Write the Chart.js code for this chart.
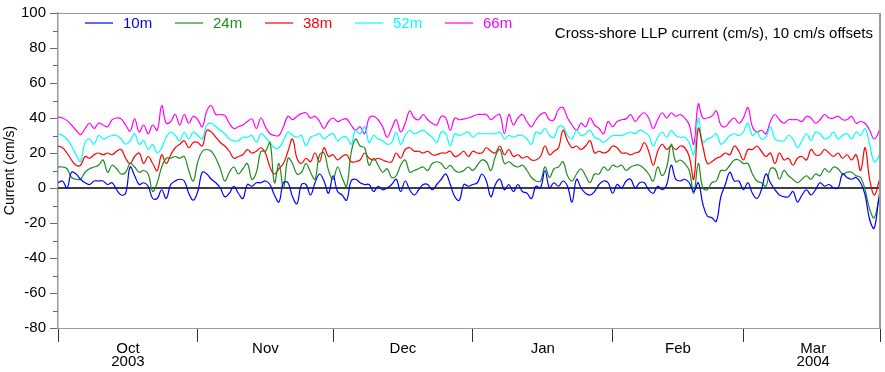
<!DOCTYPE html>
<html><head><meta charset="utf-8">
<script src="https://cdn.jsdelivr.net/npm/chart.js@4.4.0/dist/chart.umd.min.js"></script>
<style>html,body{margin:0;padding:0;background:#fff}#wrap{width:885px;height:372px}</style>
</head><body><div id="wrap"><canvas id="c" width="885" height="372"></canvas></div>
<script>
// Days since 2003-10-01
const monthNames = ['Oct','Nov','Dec','Jan','Feb','Mar'];
const monthYears = ['2003','','','','','2004'];
const monthStarts = [0,31,61,92,123,152];
const monthMids = [15.5,46,76.5,107.5,137.5,167.5];
const xEnd = 182.3;
const yTickValues = [-80,-60,-40,-20,0,20,40,60,80,100];
const seriesNames = ['10m','24m','38m','52m','66m'];
const seriesColors = ['#0000ff','#1e8c1e','#ff0000','#00ffff','#ff00ff'];
const titleText = 'Cross-shore LLP current (cm/s), 10 cm/s offsets';
const yTitle = 'Current (cm/s)';

const s10m = [3,4,0,9,8,5,3,2,4,4, 4,2,3,-1,-4,-3,12,7,2,3, 1,-6,-6,-1,-6,2,4,5,4,-3, -7,-2,9,8,5,3,0,-5,
 -3,1,-3,-6,2,1,3,3,4,2, -4,-8,3,3,-5,-9,2,2,-4,3, 8,4,-3,7,-2,-4,-7,4,5,3, 2,2,-2,1,-1,0,2,
 5,-2,4,-1,-4,-1,2,2,-1,2, 5,8,2,-5,-7,2,1,2,3,8, 4,-5,2,5,-1,2,-2,2,-2,-3, -6,1,0,10,0,3,1,
 4,1,-8,5,0,-3,-4,-2,2,4, 3,-3,2,0,4,5,0,3,3,-1, -3,1,-1,2,13,5,4,5,3,-2, 3,-9,-16,-17,-19,
 -5,2,9,4,4,-1,3,-3,-6,-1, 8,3,-1,-4,-5,-5,-2,-8,-4,-1, -4,-1,3,1,2,0,0,8,6,5, 6,3,-4,-18,-23,-7,5];
const s24m = [12,12,11,6,5,5,9,11,12,13, 16,9,13,11,8,9,14,12,9,10, 8,-2,3,12,17,17,18,17,18,10, 4,15,21,22,21,17,11,4,
 9,12,8,11,14,5,9,21,21,26, 3,14,0,17,14,8,9,14,9,5, 19,20,10,5,12,6,1,20,28,24, 23,13,17,13,9,11,6,
 7,13,16,9,10,11,12,10,14,15, 14,11,13,10,9,10,12,10,13,16, 15,10,18,22,14,15,13,12,13,10, 6,4,4,12,6,11,12,
 15,7,4,8,11,7,3,8,8,12, 10,13,12,13,10,12,13,13,11,8, 4,12,7,12,25,15,16,14,10,-3, 14,0,-1,3,4,
 10,10,13,16,16,14,14,8,4,3, 1,11,11,5,10,7,5,3,5,7, 5,8,7,11,9,12,11,8,9,9, 7,6,-1,-12,-17,-6,15];
const s38m = [24,23,20,16,13,13,18,17,19,20, 19,20,19,21,22,17,14,18,20,14, 18,14,10,19,14,19,23,25,27,23, 26,26,24,33,32,29,26,24,
 21,17,18,19,22,20,21,23,20,12, 8,11,14,21,28,17,14,17,15,20, 15,23,18,19,16,18,19,15,15,16, 20,17,16,17,16,15,15,
 20,17,22,23,21,21,20,21,19,19, 20,20,21,18,19,21,18,21,20,20, 23,21,20,24,19,22,18,19,17,18, 16,16,18,24,19,21,23,
 33,27,23,24,22,24,27,20,21,20, 21,24,23,20,20,19,20,21,26,21, 13,21,25,22,24,22,24,23,18,5, 34,24,14,15,17,
 18,20,19,24,21,16,22,22,24,21, 18,20,14,20,16,17,13,17,18,16, 22,19,19,22,20,18,20,17,19,16, 19,10,23,5,-4,3,15];
const s52m = [31,30,28,24,19,15,26,28,25,30, 28,29,30,30,28,25,27,31,25,27, 22,25,20,23,29,32,30,27,32,28, 32,30,28,36,37,35,33,31,
 28,27,27,29,29,30,26,31,29,26, 23,23,27,32,30,29,30,24,29,30, 31,28,30,31,27,29,29,25,33,31, 35,26,30,28,27,25,26,
 32,25,30,33,31,32,33,31,29,26, 32,31,24,31,30,31,32,29,31,31, 31,31,31,32,28,30,29,30,30,28, 25,32,31,34,30,29,35,
 35,30,28,33,30,31,33,29,28,26, 28,30,30,30,31,32,31,33,32,30, 24,29,32,29,33,30,29,29,26,19, 40,26,28,29,31,
 25,27,30,31,30,32,37,30,32,28, 29,35,28,27,27,30,28,23,27,31, 27,32,31,28,29,32,28,30,31,28, 32,30,34,25,15,18,30];
const s66m = [40.5,40,38.5,36,33,30.5,34,37,34,37, 36,35,39,40,39.5,36,32.5,39.5,32,36, 31,36,33,47,37,38,42,36,42,37, 41,39,35,44,47,42,42,41.5,
 37,34,35,36,38,39.5,34,40,35,31, 30,30,35,41,39,41,42.5,43,40,41, 38,34,38,40,38,39,39.5,36,33,35, 31,40,41,39,35,29,34,
 39,32,37,44,40,39,42,39,37,36, 41,40,33,40,39,39.5,40,41,42,42, 42,39,41,42,31,42,36,40,42,38, 35,39,42,43,39,39,45,
 46,40,36,33,37,35,40,36,34,31, 38,35,38,39,39.5,42,38,41,43,40, 34,39,43,40,43,41,42,40,36,25, 48,40,40,41,44,
 36,35,38,40,37,40,46,35,32,33, 31,38,42,39,37,39,39,39,38,41, 40,37,39,42,40,40,41,39,39,41, 37,38,37,33,28,32,41];

const allSeries = [s10m,s24m,s38m,s52m,s66m];
const FONT = "'Liberation Sans', Arial, Helvetica, sans-serif";

const datasets = allSeries.map((arr,k)=>({
  label: seriesNames[k],
  data: arr.map((v,i)=>({x:i,y:v})),
  borderColor: seriesColors[k],
  borderWidth: 1.2,
  pointRadius: 0,
  tension: 0.4,
  fill: false
}));

const xTickVals = [...monthStarts, xEnd, ...monthMids].sort((a,b)=>a-b);
const isBoundary = v => monthStarts.includes(v) || v === xEnd;

const decor = {
  id:'decor',
  beforeDatasetsDraw(chart){
    const {ctx, chartArea:a, scales:{y}} = chart;
    ctx.save();
    const y0 = y.getPixelForValue(0);
    ctx.strokeStyle = '#000'; ctx.lineWidth = 1.5;
    ctx.beginPath(); ctx.moveTo(a.left, y0); ctx.lineTo(a.right, y0); ctx.stroke();
    ctx.restore();
  },
  afterDraw(chart){
    const {ctx, chartArea:a, scales:{y}} = chart;
    ctx.save();
    ctx.strokeStyle = '#9a9a9a';
    ctx.lineWidth = 1;
    ctx.beginPath(); ctx.moveTo(a.left, a.top+0.5); ctx.lineTo(a.right, a.top+0.5); ctx.stroke();
    ctx.lineWidth = 2;
    ctx.beginPath(); ctx.moveTo(a.right, a.top); ctx.lineTo(a.right, a.bottom); ctx.stroke();
    ctx.strokeStyle = '#666'; ctx.lineWidth = 1;
    for (let v=-70; v<100; v+=20){
      const py = Math.round(y.getPixelForValue(v))+0.5;
      ctx.beginPath(); ctx.moveTo(a.left-5, py); ctx.lineTo(a.left, py); ctx.stroke();
    }
    ctx.font = '15px ' + FONT;
    ctx.textBaseline = 'middle';
    ctx.textAlign = 'left';
    seriesNames.forEach((n,k)=>{
      const x0 = 85 + 90*k, ly = 23;
      ctx.strokeStyle = seriesColors[k]; ctx.lineWidth = 1.2;
      ctx.beginPath(); ctx.moveTo(x0, ly); ctx.lineTo(x0+28, ly); ctx.stroke();
      ctx.fillStyle = seriesColors[k];
      ctx.fillText(n, x0+38, ly+1);
    });
    ctx.font = '15px ' + FONT;
    ctx.fillStyle = '#000';
    ctx.textAlign = 'right';
    ctx.fillText(titleText, 873, 34);
    ctx.restore();
  }
};

new Chart(document.getElementById('c'), {
  type:'line',
  data:{datasets},
  options:{
    responsive:false,
    animation:false,
    devicePixelRatio:1,
    layout:{padding:{top:5,right:5,left:0,bottom:0}},
    plugins:{legend:{display:false},tooltip:{enabled:false}},
    scales:{
      x:{
        type:'linear', min:0, max:xEnd,
        afterBuildTicks(s){ s.ticks = xTickVals.map(v=>({value:v})); },
        afterFit(s){ s.height = 44; },
        ticks:{
          autoSkip:false, maxRotation:0, minRotation:0, padding:1,
          color:'#000',
          font:{family:FONT, size:15, lineHeight:0.83},
          callback(v){
            const i = monthMids.indexOf(v);
            if (i < 0) return '';
            return monthYears[i] ? [monthNames[i], monthYears[i]] : monthNames[i];
          }
        },
        grid:{
          drawOnChartArea:false, tickLength:14, tickWidth:1,
          tickColor: c => (c.tick && isBoundary(c.tick.value)) ? '#333' : 'rgba(0,0,0,0)'
        },
        border:{display:true, color:'#9a9a9a', width:1}
      },
      y:{
        type:'linear', min:-80, max:100,
        afterBuildTicks(s){ s.ticks = yTickValues.map(v=>({value:v})); },
        afterFit(s){ s.width = 58; },
        ticks:{color:'#000', padding:4, font:{family:FONT, size:15}},
        grid:{drawOnChartArea:false, tickLength:8, tickColor:'#666'},
        border:{display:true, color:'#9a9a9a', width:1.5},
        title:{display:true, text:yTitle, color:'#000', font:{family:FONT, size:14}, padding:{top:2,bottom:0}}
      }
    }
  },
  plugins:[decor]
});
</script></body></html>
